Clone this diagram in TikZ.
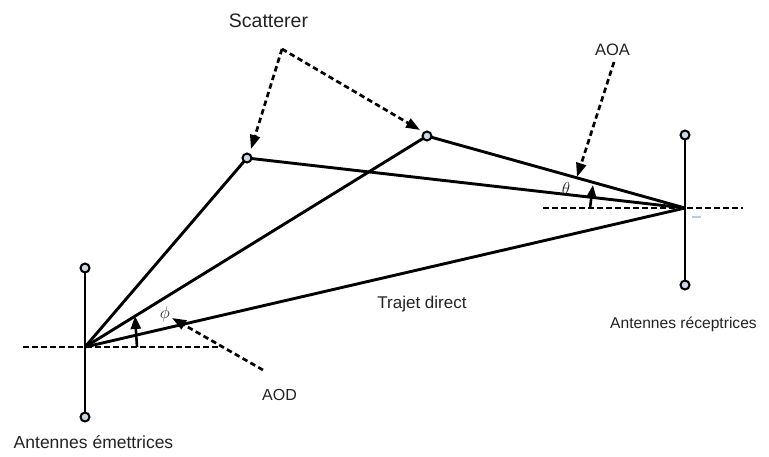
\documentclass[tikz,border=0pt]{standalone}
\usepackage{fontspec}
\setmainfont{Liberation Sans}
\usetikzlibrary{arrows.meta}
\definecolor{dotfill}{HTML}{C9D6E6}
\definecolor{txt}{HTML}{222222}
\definecolor{artefact}{HTML}{B8CCE4}
\begin{document}
\begin{tikzpicture}[x=1pt,y=-1pt,
  ray/.style={line width=2.9pt},
  guide/.style={line width=2.7pt,dash pattern=on 5.5pt off 3.5pt},
  pointer/.style={guide,-{Triangle[length=14pt,width=10pt]}},
  angarrow/.style={line width=2.6pt,-{Triangle[length=13pt,width=10pt]}},
  dot/.style={circle,draw=black,line width=2pt,fill=dotfill,inner sep=0pt,minimum size=9pt},
  lbl/.style={inner sep=0pt,text=txt,anchor=base},
  greek/.style={inner sep=0pt,text=txt,font=\fontsize{16}{17}\selectfont}]
\useasboundingbox (0,0) rectangle (769,456);

% key points
\coordinate (tx) at (85,347);
\coordinate (rx) at (685,208);
\coordinate (txL) at (23,347);
\coordinate (txR) at (220,347);
\coordinate (rxL) at (543,208);
\coordinate (rxR) at (743,208);
\coordinate (scO) at (282,49);
\coordinate (scA) at (251,149);
\coordinate (scB) at (420,130);
\coordinate (aoaO) at (614,62);
\coordinate (aoaT) at (577,177);
\coordinate (aodO) at (263,370);
\coordinate (aodT) at (172,318);
\coordinate (phS) at (137,347);
\coordinate (phT) at (135,316);
\coordinate (thS) at (590,208);
\coordinate (thT) at (593,185);

% horizontal reference lines
\draw[guide] (txL) -- (txR);
\draw[guide] (rxL) -- (rxR);

% rays
\coordinate (s1) at (247,158);
\coordinate (s2) at (427,136);
\draw[ray] (tx) -- (s1);
\draw[ray] (tx) -- (s2);
\draw[ray] (tx) -- (rx);
\draw[ray] (s1) -- (rx);
\draw[ray] (s2) -- (rx);

% antennas
\coordinate (taC) at (85,268);
\coordinate (tbC) at (85,417);
\coordinate (raC) at (685,135);
\coordinate (rbC) at (685,285);
\draw[ray] (taC) -- (tbC);
\draw[ray] (raC) -- (rbC);
\draw[artefact,line width=1.5pt] (692,217) -- (701,217);

% pointers
\draw[pointer] (scO) -- (scA);
\draw[pointer] (scO) -- (scB);
\draw[pointer] (aoaO) -- (aoaT);
\draw[pointer] (aodO) -- (aodT);

% angle arrows
\draw[angarrow] (phS) -- (phT);
\draw[angarrow] (thS) -- (thT);

% dots
\node[dot] (ta) at (taC) {};
\node[dot] (tb) at (tbC) {};
\node[dot] (ra) at (raC) {};
\node[dot] (rb) at (rbC) {};
\node[dot] (d1) at (s1) {};
\node[dot] (d2) at (s2) {};

% labels
\node[lbl,font=\fontsize{19.5}{21}\selectfont] (scat) at (268.5,27) {Scatterer};
\node[lbl,font=\fontsize{16.5}{18}\selectfont] (aoa) at (612.5,55) {AOA};
\node[lbl,font=\fontsize{16}{18}\selectfont] (aod) at (279.5,400) {AOD};
\node[lbl,font=\fontsize{17}{18}\selectfont] (direct) at (422,308) {Trajet direct};
\node[lbl,font=\fontsize{17.5}{19}\selectfont] (emet) at (93.5,448) {Antennes émettrices};
\node[lbl,font=\fontsize{15.6}{17}\selectfont] (recep) at (683.5,328) {Antennes réceptrices};
\node[greek] (phi) at (165,314) {$\phi$};
\node[greek] (theta) at (566,188) {$\theta$};
\end{tikzpicture}
\end{document}
